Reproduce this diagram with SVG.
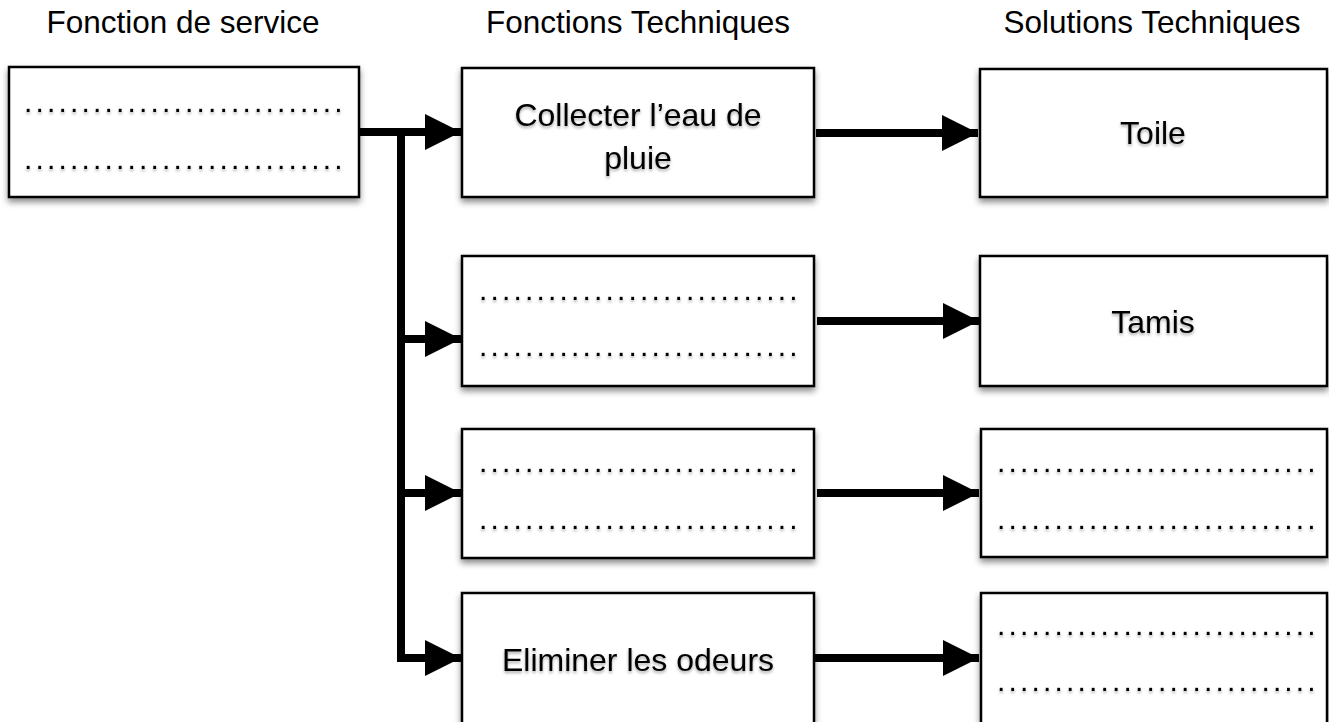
<svg xmlns="http://www.w3.org/2000/svg" width="1329" height="722" viewBox="0 0 1329 722">
<defs>
<filter id="sh" x="-10%" y="-10%" width="120%" height="130%">
<feDropShadow dx="0" dy="4" stdDeviation="3" flood-color="#000" flood-opacity="0.45"/>
</filter>
<filter id="tsh" x="-10%" y="-30%" width="120%" height="160%">
<feDropShadow dx="0" dy="2" stdDeviation="1.5" flood-color="#000" flood-opacity="0.35"/>
</filter>
<marker id="ah" markerUnits="userSpaceOnUse" markerWidth="36" markerHeight="36" viewBox="0 0 35 35" refX="35" refY="17.5" orient="auto">
<path d="M0,0 L35,17.5 L0,35 Z" fill="#000"/>
</marker>
<style>
.box{fill:#fff;stroke:#000;stroke-width:2.5;filter:url(#sh)}
.t{font-family:"Liberation Sans",Arial,Helvetica,sans-serif;font-size:31.5px;fill:#000}
.lbl{font-family:"Liberation Sans",Arial,Helvetica,sans-serif;font-size:32px;fill:#000;text-anchor:middle;filter:url(#tsh)}
.dots{font-family:"Liberation Sans",Arial,Helvetica,sans-serif;font-size:30px;fill:#000;letter-spacing:3.16px;filter:url(#tsh)}
.c{fill:none;stroke:#000;stroke-width:8;stroke-linejoin:miter}
</style>
</defs>
<g id="titles">
<text class="t" x="183" y="33" text-anchor="middle">Fonction de service</text>
<text class="t" x="638" y="33" text-anchor="middle">Fonctions Techniques</text>
<text class="t" x="1152" y="33" text-anchor="middle">Solutions Techniques</text>
</g>
<g id="connectors">
<path class="c" d="M359,132 H461" marker-end="url(#ah)"/>
<path class="c" d="M401,132 V658 H461" marker-end="url(#ah)"/>
<path class="c" d="M401,339 H461" marker-end="url(#ah)"/>
<path class="c" d="M401,493 H461" marker-end="url(#ah)"/>
<path class="c" d="M816,133 H978" marker-end="url(#ah)"/>
<path class="c" d="M817,321 H979" marker-end="url(#ah)"/>
<path class="c" d="M817,493 H979" marker-end="url(#ah)"/>
<path class="c" d="M810,658 H979" marker-end="url(#ah)"/>
</g>
<g id="fs">
<rect class="box" x="9" y="67" width="350" height="130"/>
<text class="dots" x="24" y="112">............................</text>
<text class="dots" x="24" y="169">............................</text>
</g>
<g id="ft1">
<rect class="box" x="462" y="68" width="352" height="129"/>
<text class="lbl" x="638" y="126">Collecter l’eau de</text>
<text class="lbl" x="638" y="169">pluie</text>
</g>
<g id="ft2">
<rect class="box" x="462" y="256" width="352" height="130"/>
<text class="dots" x="479" y="300">............................</text>
<text class="dots" x="479" y="356">............................</text>
</g>
<g id="ft3">
<rect class="box" x="462" y="429" width="352" height="129"/>
<text class="dots" x="479" y="472">............................</text>
<text class="dots" x="479" y="529">............................</text>
</g>
<g id="ft4">
<rect class="box" x="462" y="593" width="352" height="132"/>
<text class="lbl" x="638" y="671">Eliminer les odeurs</text>
</g>
<g id="st1">
<rect class="box" x="980" y="69" width="347" height="128"/>
<text class="lbl" x="1153" y="144">Toile</text>
</g>
<g id="st2">
<rect class="box" x="980" y="256" width="347" height="130"/>
<text class="lbl" x="1153" y="333">Tamis</text>
</g>
<g id="st3">
<rect class="box" x="981" y="429" width="346" height="128"/>
<text class="dots" x="997" y="472">............................</text>
<text class="dots" x="997" y="529">............................</text>
</g>
<g id="st4">
<rect class="box" x="981" y="593" width="346" height="132"/>
<text class="dots" x="997" y="635">............................</text>
<text class="dots" x="997" y="691">............................</text>
</g>
</svg>
